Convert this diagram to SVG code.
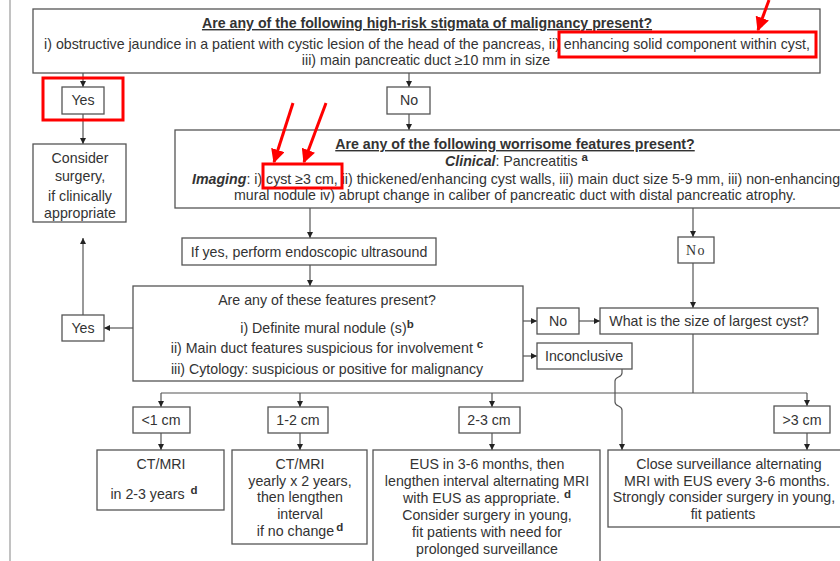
<svg xmlns="http://www.w3.org/2000/svg" width="840" height="561" viewBox="0 0 840 561">
<defs>
<marker id="ah" viewBox="0 0 10 10" refX="10" refY="5" markerWidth="6" markerHeight="6" orient="auto" markerUnits="userSpaceOnUse"><path d="M0,0 L10,5 L0,10 z" fill="#222"/></marker>
<marker id="rah" viewBox="0 0 10 10" refX="9" refY="5" markerWidth="14" markerHeight="14" orient="auto" markerUnits="userSpaceOnUse"><path d="M0,0 L10,5 L0,10 z" fill="#f00"/></marker>
</defs>
<style>
.box{fill:#fff;stroke:#555;stroke-width:1.3}
.t{font-family:"Liberation Sans",Arial,sans-serif;font-size:14.2px;fill:#333}
.c{text-anchor:middle}
.b{font-weight:bold}
.u{text-decoration:underline}
.sup{font-size:11.5px;font-weight:bold}
.ln{fill:none;stroke:#555;stroke-width:1.2}
.red{fill:none;stroke:#f00;stroke-width:3}
</style>
<rect width="840" height="561" fill="#fff"/>
<line x1="10" y1="0" x2="10" y2="561" stroke="#999" stroke-width="1.2"/>

<g id="connectors">
<path class="ln" d="M83,73 V87" marker-end="url(#ah)"/>
<path class="ln" d="M409,73 V87" marker-end="url(#ah)"/>
<path class="ln" d="M83,114 V144" marker-end="url(#ah)"/>
<path class="ln" d="M409,114 V130" marker-end="url(#ah)"/>
<path class="ln" d="M310,208 V238" marker-end="url(#ah)"/>
<path class="ln" d="M310,265 V286" marker-end="url(#ah)"/>
<path class="ln" d="M133,328 H104" marker-end="url(#ah)"/>
<path class="ln" d="M83,315 V238" marker-end="url(#ah)"/>
<path class="ln" d="M523,321 H537" marker-end="url(#ah)"/>
<path class="ln" d="M579,321 H600" marker-end="url(#ah)"/>
<path class="ln" d="M523,356 H537" marker-end="url(#ah)"/>
<path class="ln" d="M693,208 V237" marker-end="url(#ah)"/>
<path class="ln" d="M693,263 V308" marker-end="url(#ah)"/>
<path class="ln" d="M693,334 V393 M161,393 H807"/>
<path class="ln" d="M161,393 V407" marker-end="url(#ah)"/>
<path class="ln" d="M300,393 V407" marker-end="url(#ah)"/>
<path class="ln" d="M492,393 V407" marker-end="url(#ah)"/>
<path class="ln" d="M807,393 V406" marker-end="url(#ah)"/>
<path class="ln" d="M161,433 V450" marker-end="url(#ah)"/>
<path class="ln" d="M300,433 V450" marker-end="url(#ah)"/>
<path class="ln" d="M492,433 V450" marker-end="url(#ah)"/>
<path class="ln" d="M807,433 V450" marker-end="url(#ah)"/>
<path class="ln" d="M622,369 V373 C622,378 615,376 615,381 V402 C615,407 622,405 622,410 V450" marker-end="url(#ah)"/>
</g>

<g id="n-highrisk">
<rect class="box" x="33" y="9" width="787" height="64"/>
<text class="t c b u" x="427" y="28">Are any of the following high-risk stigmata of malignancy present?</text>
<text class="t c" x="427" y="49">i) obstructive jaundice in a patient with cystic lesion of the head of the pancreas, ii) enhancing solid component within cyst,</text>
<text class="t c" x="426" y="65">iii) main pancreatic duct ≥10 mm in size</text>
</g>
<g id="n-yes1">
<rect class="box" x="62" y="87" width="42" height="27"/>
<text class="t c" x="83" y="105">Yes</text>
</g>
<g id="n-no1">
<rect class="box" x="387" y="87" width="43" height="27"/>
<text class="t c" x="409" y="105">No</text>
</g>
<g id="n-surgery">
<rect class="box" x="33" y="144" width="93" height="78"/>
<text class="t c" x="80" y="163">Consider</text>
<text class="t c" x="80" y="181">surgery,</text>
<text class="t c" x="80" y="201">if clinically</text>
<text class="t c" x="80" y="218">appropriate</text>
</g>
<g id="n-worrisome">
<rect class="box" x="175" y="130" width="680" height="78"/>
<text class="t c b u" x="515" y="149">Are any of the following worrisome features present?</text>
<text class="t" x="445" y="166"><tspan class="b" font-style="italic">Clinical</tspan>: Pancreatitis <tspan class="sup" dy="-5">a</tspan></text>
<text class="t" x="192" y="184"><tspan class="b" font-style="italic">Imaging</tspan>: i) cyst ≥3 cm, ii) thickened/enhancing cyst walls, iii) main duct size 5-9 mm, iii) non-enhancing</text>
<text class="t c" x="515" y="200">mural nodule iv) abrupt change in caliber of pancreatic duct with distal pancreatic atrophy.</text>
</g>
<g id="n-ifyes">
<rect class="box" x="182" y="238" width="254" height="27"/>
<text class="t c" x="309" y="257">If yes, perform endoscopic ultrasound</text>
</g>
<g id="n-no2">
<rect class="box" x="678" y="237" width="36" height="26"/>
<text x="696" y="255" text-anchor="middle" font-family="'Liberation Serif','Times New Roman',serif" font-size="14" letter-spacing="1.5" fill="#333">No</text>
</g>
<g id="n-eus">
<rect class="box" x="133" y="286" width="390" height="95"/>
<text class="t c" x="327" y="305">Are any of these features present?</text>
<text class="t c" x="327" y="333">i) Definite mural nodule (s)<tspan class="sup" font-size="12.5" dy="-5">b</tspan></text>
<text class="t c" x="327" y="353">ii) Main duct features suspicious for involvement <tspan class="sup" dy="-5">c</tspan></text>
<text class="t c" x="327" y="374">iii) Cytology: suspicious or positive for malignancy</text>
</g>
<g id="n-yes2">
<rect class="box" x="62" y="315" width="42" height="26"/>
<text class="t c" x="83" y="333">Yes</text>
</g>
<g id="n-no3">
<rect class="box" x="537" y="308" width="42" height="26"/>
<text class="t c" x="558" y="326">No</text>
</g>
<g id="n-size">
<rect class="box" x="600" y="308" width="218" height="26"/>
<text class="t c" x="709" y="326">What is the size of largest cyst?</text>
</g>
<g id="n-inconclusive">
<rect class="box" x="537" y="343" width="95" height="26"/>
<text class="t c" x="584" y="361">Inconclusive</text>
</g>
<g id="n-lt1">
<rect class="box" x="133" y="407" width="57" height="26"/>
<text class="t c" x="161" y="425">&lt;1 cm</text>
</g>
<g id="n-12">
<rect class="box" x="268" y="407" width="60" height="26"/>
<text class="t c" x="298" y="425">1-2 cm</text>
</g>
<g id="n-23">
<rect class="box" x="459" y="407" width="61" height="26"/>
<text class="t c" x="489" y="425">2-3 cm</text>
</g>
<g id="n-gt3">
<rect class="box" x="774" y="406" width="56" height="27"/>
<text class="t c" x="802" y="425">&gt;3 cm</text>
</g>
<g id="n-out1">
<rect class="box" x="97" y="450" width="127" height="60"/>
<text class="t c" x="161" y="469">CT/MRI</text>
<text class="t c" x="154" y="499">in 2-3 years <tspan class="sup" font-size="12" dx="2" dy="-5">d</tspan></text>
</g>
<g id="n-out2">
<rect class="box" x="232" y="450" width="135" height="94"/>
<text class="t c" x="300" y="469">CT/MRI</text>
<text class="t c" x="300" y="486">yearly x 2 years,</text>
<text class="t c" x="300" y="502">then lengthen</text>
<text class="t c" x="300" y="519">interval</text>
<text class="t c" x="300" y="536">if no change<tspan class="sup" font-size="12" dx="2" dy="-5">d</tspan></text>
</g>
<g id="n-out3">
<rect class="box" x="373" y="450" width="227" height="130"/>
<text class="t c" x="487" y="469">EUS in 3-6 months, then</text>
<text class="t c" x="487" y="486">lengthen interval alternating MRI</text>
<text class="t c" x="487" y="503">with EUS as appropriate. <tspan class="sup" font-size="12" dy="-5">d</tspan></text>
<text class="t c" x="487" y="520">Consider surgery in young,</text>
<text class="t c" x="487" y="537">fit patients with need for</text>
<text class="t c" x="487" y="554">prolonged surveillance</text>
</g>
<g id="n-out4">
<rect class="box" x="608" y="450" width="240" height="77"/>
<text class="t c" x="729" y="469">Close surveillance alternating</text>
<text class="t c" x="727" y="486">MRI with EUS every 3-6 months.</text>
<text class="t c" x="724" y="502">Strongly consider surgery in young,</text>
<text class="t c" x="723" y="519">fit patients</text>
</g>

<g id="annotations">
<rect class="red" x="559" y="32" width="257" height="25"/>
<rect class="red" x="43" y="78" width="80" height="42"/>
<rect class="red" x="263" y="164" width="79" height="24"/>
<line class="red" x1="769" y1="0" x2="758" y2="30" marker-end="url(#rah)"/>
<line class="red" x1="293" y1="103" x2="274" y2="162" marker-end="url(#rah)"/>
<line class="red" x1="326" y1="103" x2="304" y2="162" marker-end="url(#rah)"/>
</g>
</svg>
